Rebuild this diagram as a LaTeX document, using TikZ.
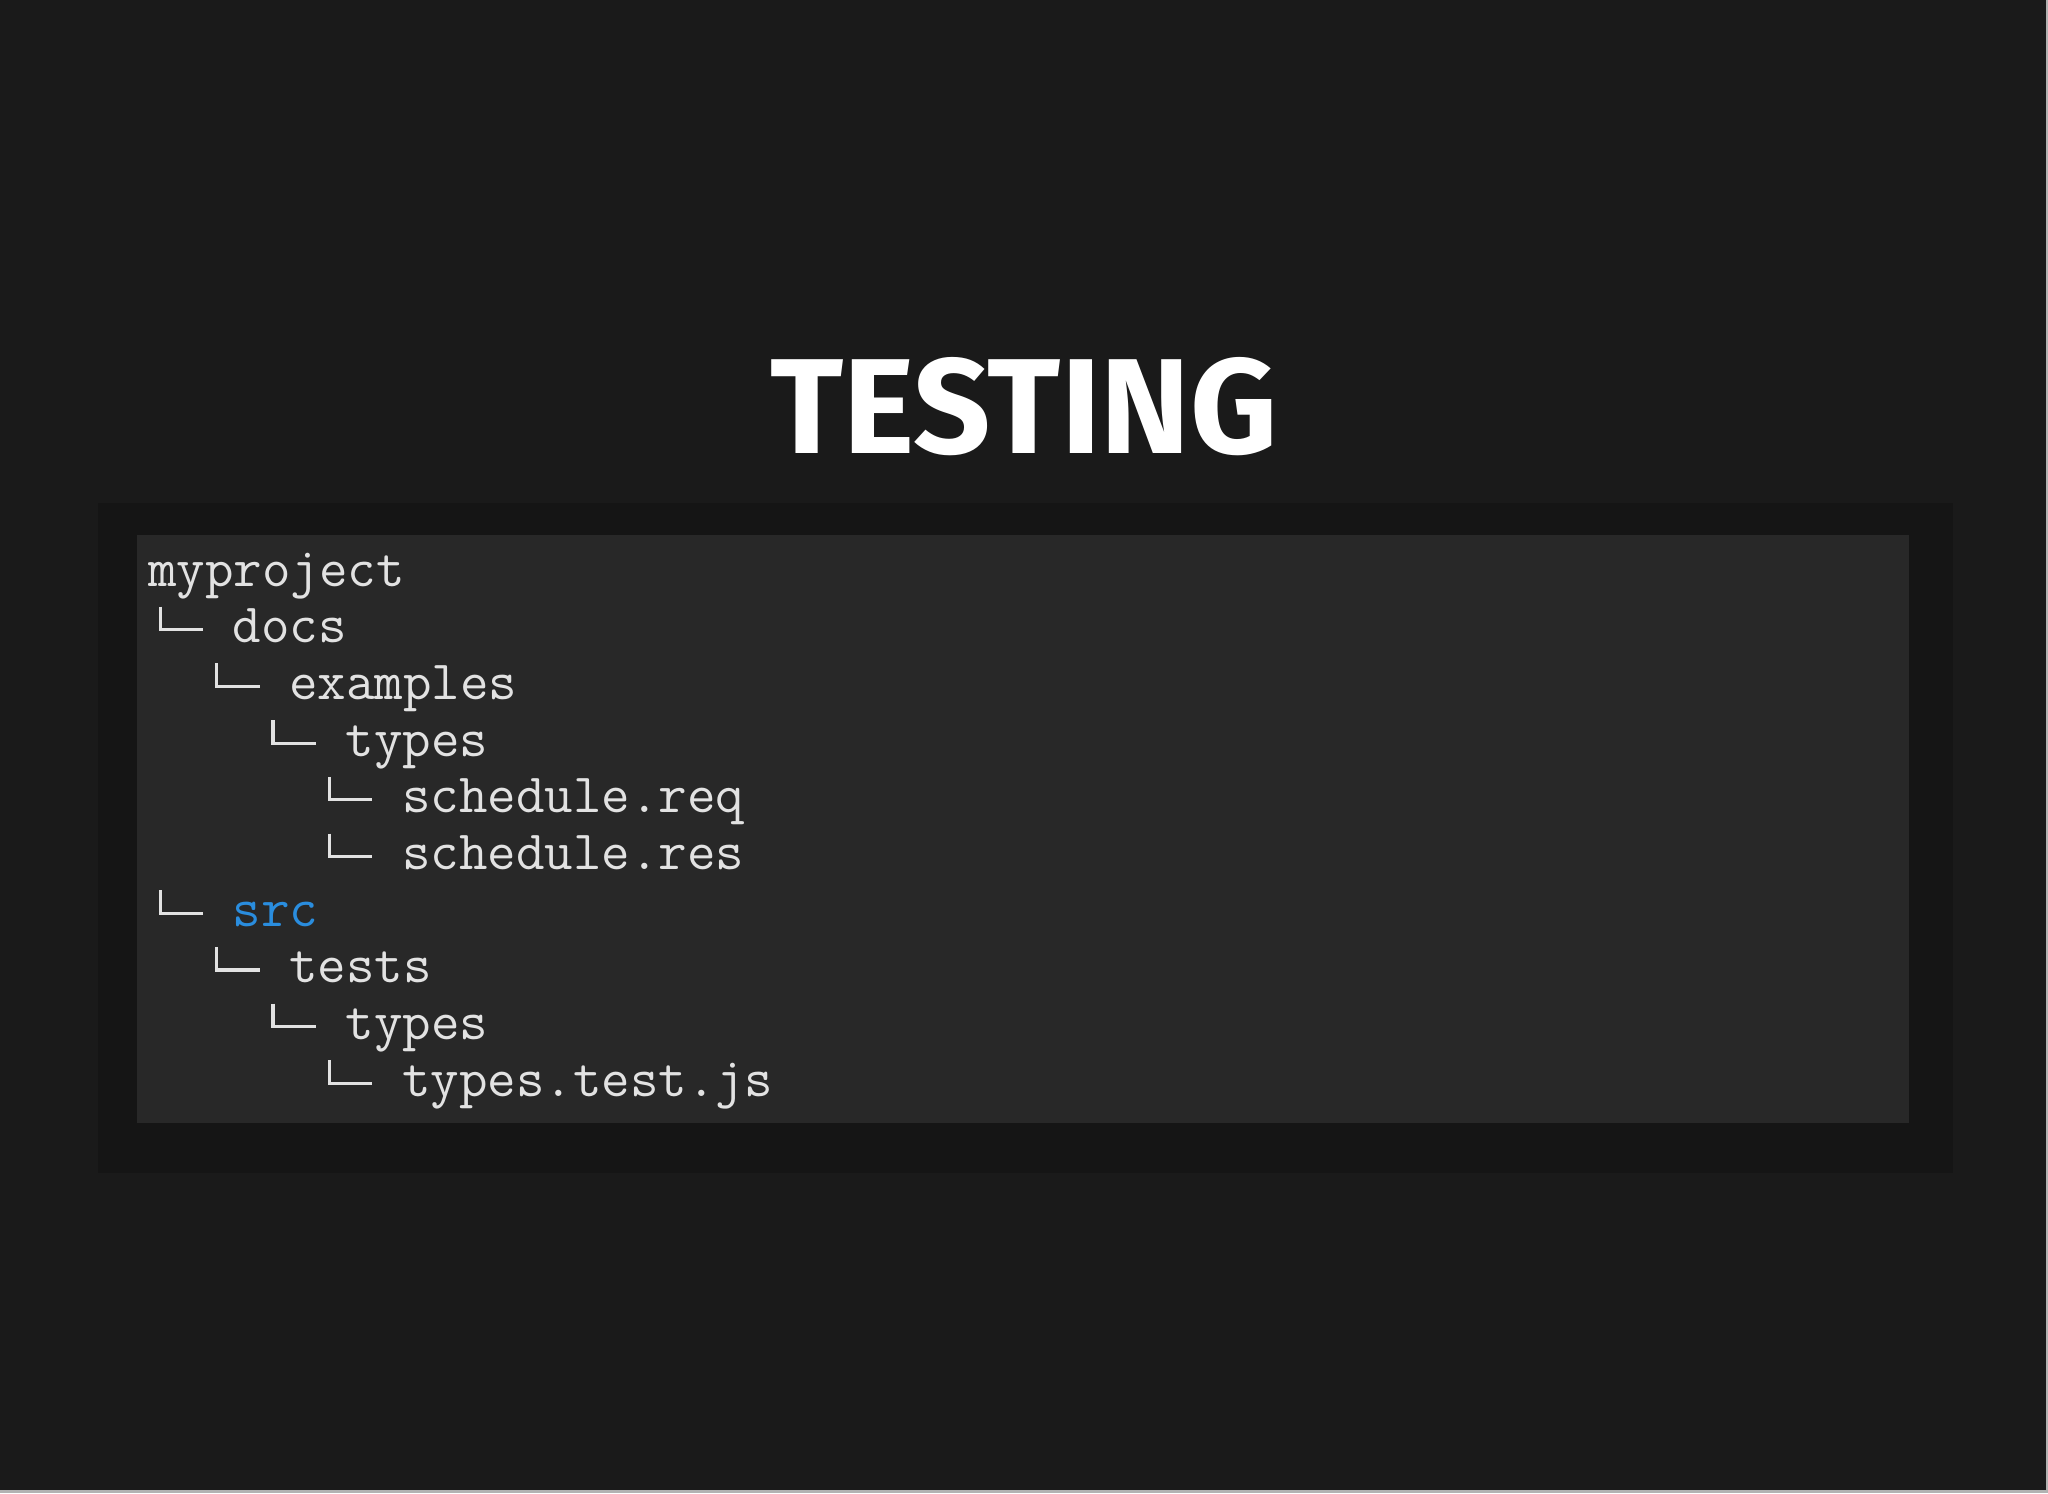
\documentclass[tikz,border=0pt]{standalone}
\usepackage{fontspec}
\newfontfamily\titlefont{Fira Sans}
\usetikzlibrary{positioning}

\definecolor{slidebg}{HTML}{1A1A1A}
\definecolor{framebg}{HTML}{151515}
\definecolor{panelbg}{HTML}{282828}
\definecolor{codegray}{HTML}{E2E2E2}
\definecolor{dirblue}{HTML}{2A8DDE}

\tikzset{
  code/.style = {anchor = base west, inner sep = 0pt, text = codegray,
                 font = {\ttfamily\fontsize{15.75}{18}\selectfont}},
  branch/.style = {draw = codegray, line width = 0.9pt}
}

\begin{document}
\begin{tikzpicture}[x = 0.01cm, y = -0.01cm]
    % slide and panels
    \fill[slidebg] (0,0) rectangle (2048,1493);
    \fill[gray!60] (2046,0) rectangle (2048,1493);
    \fill[gray!60] (0,1490) rectangle (2048,1493);
    \useasboundingbox (0,0) rectangle (2048,1493);
    \fill[framebg] (98,503) rectangle (1953,1173);
    \fill[panelbg] (137,535) rectangle (1909,1123);

    \node[anchor = base, inner sep = 0pt, text = white,
          font = {\titlefont\bfseries\fontsize{38.5}{40}\selectfont}] (title) at (1024,453) {TESTING};

    % tree lines: name/level/row/text
    \foreach \name/\lvl/\row/\txt in {myproject/0/0/myproject, docs/3/1/docs, examples/5/2/examples,
        typesa/7/3/types, schedreq/9/4/schedule.req, schedres/9/5/schedule.res,
        src/3/6/{\textcolor{dirblue}{src}}, tests/5/7/tests, typesb/7/8/types, typestest/9/9/types.test.js}
        \node[code] (\name) at (147.6+\lvl*28.2, 586+\row*56.7) {\txt};

    % elbows
    \foreach \name in {docs,examples,typesa,schedreq,schedres,src,tests,typesb,typestest}
        \draw[branch] ([shift={(-72,-36)}]\name.base west) |- ([shift={(-29,-13)}]\name.base west);
\end{tikzpicture}
\end{document}
